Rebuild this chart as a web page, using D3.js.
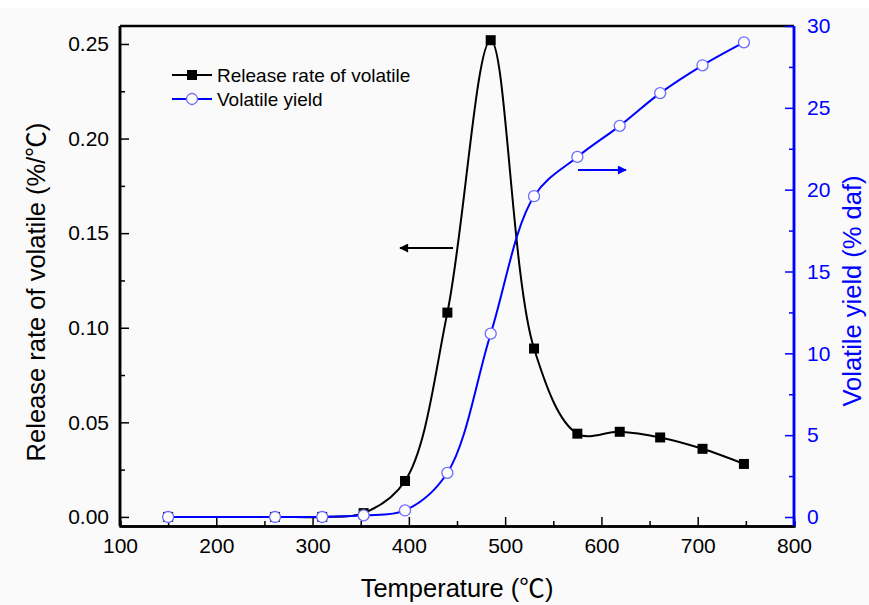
<!DOCTYPE html>
<html>
<head>
<meta charset="UTF-8">
<title>Volatile release</title>
<script src="https://cdn.jsdelivr.net/npm/d3@7"></script>
<style>
body { margin: 0; background: #fafafa; }
svg { display: block; font-family: "Liberation Sans", Arial, sans-serif; }
.cjk { font-family: "Noto Sans CJK SC", sans-serif; }
</style>
</head>
<body>
<script>
// data
var temperature = [150, 261, 310, 353, 396, 440, 485, 530, 575, 619, 661, 705, 748];
var releaseRate = [0.000, 0.000, 0.000, 0.002, 0.019, 0.108, 0.252, 0.089, 0.044, 0.045, 0.042, 0.036, 0.028];
var volatileYield = [0.0, 0.0, 0.0, 0.1, 0.4, 2.7, 11.2, 19.6, 22.0, 23.9, 25.9, 27.6, 29.0];
var xTicks = [100, 200, 300, 400, 500, 600, 700, 800];
var leftTicks = [0, 0.05, 0.10, 0.15, 0.20, 0.25];
var rightTicks = [0, 5, 10, 15, 20, 25, 30];
var seriesNames = ["Release rate of volatile", "Volatile yield"];

var W = 869, H = 605;
var margin = {top: 26, right: 75, bottom: 79, left: 120};
var size = {width: W - margin.left - margin.right, height: H - margin.top - margin.bottom};

var svg = d3.select("body").append("svg")
	.attr("width", W)
	.attr("height", H);
svg.append("rect").attr("width", W).attr("height", 8).attr("fill", "#fff");

var g = svg.append("g")
	.attr("transform", "translate(" + margin.left + "," + margin.top + ")");

var x = d3.scaleLinear().domain([100, 800]).range([0, size.width]);
var yL = d3.scaleLinear().domain([-0.0048, 0.2595]).range([size.height, 0]);
var yR = d3.scaleLinear().domain([-0.55, 30]).range([size.height, 0]);

var tickFont = 21;

// x axis (ticks inward)
var xAx = g.append("g").attr("transform", "translate(0," + size.height + ")");
xAx.call(d3.axisBottom(x).tickValues(xTicks).tickSizeInner(-9).tickSizeOuter(0).tickPadding(12));
xAx.append("g").call(d3.axisBottom(x).tickValues(d3.range(150, 800, 100)).tickSize(-5).tickFormat(""));
xAx.selectAll("text").attr("font-size", tickFont).attr("fill", "#000").attr("font-family", "Liberation Sans, Arial");
xAx.selectAll("line").attr("stroke", "#000").attr("stroke-width", 1.5);
xAx.selectAll(".domain").attr("stroke", "#000").attr("stroke-width", 2.5);

// top border
g.append("line").attr("x1", 0).attr("x2", size.width).attr("y1", 0).attr("y2", 0)
	.attr("stroke", "#000").attr("stroke-width", 2.5);

// left axis
var lAx = g.append("g");
lAx.call(d3.axisLeft(yL).tickValues(leftTicks).tickSizeInner(-9).tickSizeOuter(0).tickPadding(11)
	.tickFormat(d3.format(".2f")));
lAx.append("g").call(d3.axisLeft(yL).tickValues(d3.range(0.025, 0.26, 0.05)).tickSize(-5).tickFormat(""));
lAx.selectAll(".domain").attr("d", "M0," + size.height + "V0").attr("stroke", "#000").attr("stroke-width", 2.5);
lAx.selectAll("text").attr("font-size", tickFont).attr("fill", "#000").attr("font-family", "Liberation Sans, Arial");
lAx.selectAll("line").attr("stroke", "#000").attr("stroke-width", 1.5);

// right axis (blue)
var rAx = g.append("g").attr("transform", "translate(" + size.width + ",0)");
rAx.call(d3.axisRight(yR).tickValues(rightTicks).tickSizeInner(-9).tickSizeOuter(0).tickPadding(13));
rAx.append("g").call(d3.axisRight(yR).tickValues(d3.range(2.5, 30, 5)).tickSize(-5).tickFormat(""));
rAx.selectAll(".domain").attr("d", "M0," + size.height + "V0").attr("stroke", "#0000ff").attr("stroke-width", 2.5);
rAx.selectAll("text").attr("font-size", tickFont).attr("fill", "#0000ff").attr("font-family", "Liberation Sans, Arial");
rAx.selectAll("line").attr("stroke", "#0000ff").attr("stroke-width", 1.5);

// lines
var lineL = d3.line()
	.x(function(d, i) { return x(temperature[i]); })
	.y(function(d) { return yL(d); })
	.curve(d3.curveCatmullRom.alpha(0.5));
var lineR = d3.line()
	.x(function(d, i) { return x(temperature[i]); })
	.y(function(d) { return yR(d); })
	.curve(d3.curveCatmullRom.alpha(0.5));

g.append("path").datum(releaseRate).attr("d", lineL)
	.attr("fill", "none").attr("stroke", "#000").attr("stroke-width", 2);
g.append("path").datum(volatileYield).attr("d", lineR)
	.attr("fill", "none").attr("stroke", "#0000ff").attr("stroke-width", 2);

g.selectAll(".sq").data(releaseRate).enter().append("rect")
	.attr("class", "sq")
	.attr("x", function(d, i) { return x(temperature[i]) - 5; })
	.attr("y", function(d) { return yL(d) - 5; })
	.attr("width", 10).attr("height", 10)
	.attr("fill", "#000");
g.selectAll(".ci").data(volatileYield).enter().append("circle")
	.attr("class", "ci")
	.attr("cx", function(d, i) { return x(temperature[i]); })
	.attr("cy", function(d) { return yR(d); })
	.attr("r", 5.5)
	.attr("fill", "#fff").attr("stroke", "#6b6bff").attr("stroke-width", 1.3);

// arrows
var defs = svg.append("defs");
[["ahK", "#000"], ["ahB", "#0000ff"]].forEach(function(a) {
	defs.append("marker").attr("id", a[0])
		.attr("viewBox", "0 0 10 10").attr("refX", 9).attr("refY", 5)
		.attr("markerWidth", 15).attr("markerHeight", 9).attr("markerUnits", "userSpaceOnUse")
		.attr("orient", "auto")
		.append("path").attr("d", "M0,0 L10,5 L0,10 Z").attr("fill", a[1]);
});
svg.append("line").attr("x1", 453).attr("y1", 248).attr("x2", 400).attr("y2", 248)
	.attr("stroke", "#000").attr("stroke-width", 2)
	.attr("marker-end", "url(#ahK)");
svg.append("line").attr("x1", 578).attr("y1", 170).attr("x2", 626).attr("y2", 170)
	.attr("stroke", "#0000ff").attr("stroke-width", 2)
	.attr("marker-end", "url(#ahB)");

// legend
var leg = svg.append("g").attr("transform", "translate(172,75)");
leg.append("line").attr("x1", 0).attr("x2", 40).attr("y1", 0).attr("y2", 0).attr("stroke", "#000").attr("stroke-width", 2);
leg.append("rect").attr("x", 15).attr("y", -5).attr("width", 10).attr("height", 10).attr("fill", "#000");
leg.append("text").attr("x", 45).attr("y", 7).attr("font-size", 19).text(seriesNames[0]);
leg.append("line").attr("x1", 0).attr("x2", 40).attr("y1", 24).attr("y2", 24).attr("stroke", "#0000ff").attr("stroke-width", 2);
leg.append("circle").attr("cx", 20).attr("cy", 24).attr("r", 5.5).attr("fill", "#fff").attr("stroke", "#6b6bff").attr("stroke-width", 1.3);
leg.append("text").attr("x", 45).attr("y", 31).attr("font-size", 19).text(seriesNames[1]);

// axis titles
var tx = svg.append("text").attr("x", 457).attr("y", 597).attr("text-anchor", "middle")
	.attr("font-size", 25.5);
tx.append("tspan").text("Temperature (");
tx.append("tspan").attr("class", "cjk").text("\u2103");
tx.append("tspan").text(")");

var tl = svg.append("text").attr("transform", "translate(45,292) rotate(-90)").attr("text-anchor", "middle")
	.attr("font-size", 25.5);
tl.append("tspan").text("Release rate of volatile (%/");
tl.append("tspan").attr("class", "cjk").text("\u2103");
tl.append("tspan").text(")");

svg.append("text").attr("transform", "translate(861,291) rotate(-90)").attr("text-anchor", "middle")
	.attr("font-size", 25.5).attr("fill", "#0000ff").text("Volatile yield (% daf)");
</script>
</body>
</html>
